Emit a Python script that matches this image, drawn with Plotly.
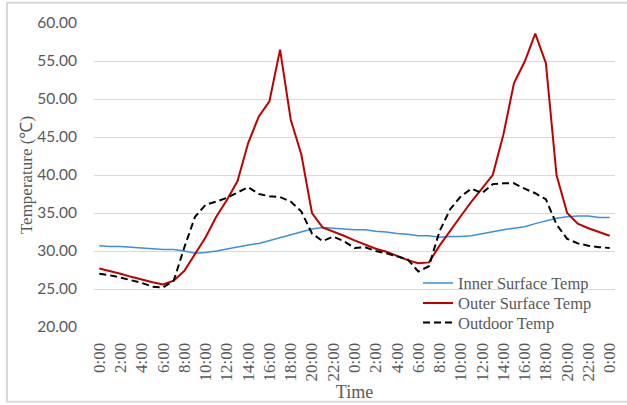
import plotly.graph_objects as go

time_labels = [f"{h}:00" for h in range(24)] + [f"{h}:00" for h in range(24)] + ["0:00"]

inner_surface = [30.7, 30.6, 30.6, 30.5, 30.4, 30.3, 30.2, 30.2, 30.0, 29.7,
                 29.8, 30.0, 30.3, 30.6, 30.8, 31.0, 31.4, 31.8, 32.1, 32.5,
                 32.9, 33.1, 33.0, 32.9, 32.8, 32.8, 32.6, 32.5, 32.3, 32.2,
                 32.0, 32.0, 31.8, 31.9, 31.9, 32.0, 32.3, 32.5, 32.8, 33.0,
                 33.2, 33.6, 34.0, 34.3, 34.5, 34.6, 34.6, 34.4, 34.4]

outer_surface = [27.7, 27.4, 27.0, 26.6, 26.2, 25.9, 25.6, 26.1, 27.4, 29.6,
                 31.8, 34.5, 36.7, 39.2, 44.2, 47.7, 49.7, 56.5, 47.3, 42.7,
                 35.0, 33.1, 32.6, 32.0, 31.4, 30.8, 30.3, 29.9, 29.3, 28.8,
                 28.4, 28.5, 30.7, 32.7, 34.6, 36.5, 38.2, 40.0, 45.3, 52.1,
                 54.9, 58.6, 54.7, 40.0, 35.0, 33.6, 33.0, 32.5, 32.0]

outdoor = [27.0, 26.8, 26.5, 26.2, 25.8, 25.3, 25.2, 26.1, 30.5, 34.5,
           36.1, 36.5, 37.0, 37.7, 38.4, 37.5, 37.2, 37.1, 36.5, 35.2,
           32.3, 31.3, 31.9, 31.3, 30.4, 30.5, 30.0, 29.7, 29.3, 28.9,
           27.3, 28.0, 32.6, 35.5, 37.2, 38.2, 37.6, 38.8, 38.9, 38.9,
           38.2, 37.6, 36.8, 33.5, 31.6, 31.0, 30.7, 30.5, 30.4]

series_names = ["Inner Surface Temp", "Outer Surface Temp", "Outdoor Temp"]
y_ticks = [20, 25, 30, 35, 40, 45, 50, 55, 60]

x = list(range(len(time_labels)))
tick_idx = x[::2]

SERIF = "Liberation Serif, Times New Roman, serif"
GRAY = "#595959"

# plot area geometry (pixels)
L, R, T, B = 94, 615, 23.3, 327.3
PW, PH = R - L, B - T


def px(xp):
    return (xp - L) / PW


def py(yp):
    return (B - yp) / PH


fig = go.Figure()
fig.add_trace(go.Scatter(x=x, y=inner_surface, mode="lines", name=series_names[0],
                         line=dict(color="#3c8fd8", width=1.5), legend="legend"))
fig.add_trace(go.Scatter(x=x, y=outer_surface, mode="lines", name=series_names[1],
                         line=dict(color="#c00000", width=2), legend="legend2"))
fig.add_trace(go.Scatter(x=x, y=outdoor, mode="lines", name=series_names[2],
                         line=dict(color="#000000", width=2, dash="7px,4px"), legend="legend3"))

leg_font = dict(family=SERIF, size=16.5, color=GRAY)
leg_common = dict(xanchor="left", yanchor="middle", bgcolor="rgba(0,0,0,0)",
                  font=leg_font, borderwidth=0)

fig.update_layout(
    width=627, height=405,
    margin=dict(l=L, r=627 - R, t=T, b=405 - B, autoexpand=False),
    paper_bgcolor="white", plot_bgcolor="white",
    showlegend=True,
    legend=dict(x=px(418), y=py(283.5), **leg_common),
    legend2=dict(x=px(418), y=py(303.5), **leg_common),
    legend3=dict(x=px(418), y=py(323), **leg_common),
    xaxis=dict(range=[-0.5, len(time_labels) - 0.5], tickmode="array",
               tickvals=tick_idx, ticktext=[time_labels[i] for i in tick_idx],
               tickangle=-90, showgrid=False, zeroline=False, showline=False,
               ticks="outside", ticklen=8, tickcolor="rgba(0,0,0,0)", automargin=False,
               tickfont=dict(family=SERIF, size=17, color=GRAY),
               title=dict(text="Time", font=dict(family=SERIF, size=18, color=GRAY), standoff=0)),
    yaxis=dict(range=[20, 60], tickmode="array", tickvals=y_ticks,
               ticktext=[f"{v:.2f}" for v in y_ticks], automargin=False,
               showgrid=True, gridcolor="#d9d9d9", gridwidth=1, zeroline=False, showline=False,
               ticks="outside", ticklen=13, tickcolor="rgba(0,0,0,0)",
               tickfont=dict(family="Lato, Liberation Sans, sans-serif", size=15.5, color=GRAY),
               title=dict(text="Temperature (℃)", font=dict(family=SERIF, size=17, color=GRAY), standoff=0)),
    shapes=[dict(type="rect", xref="paper", yref="paper",
                 x0=px(7), x1=px(640), y0=py(402), y1=py(3),
                 line=dict(color="#d9d9d9", width=2), fillcolor="rgba(0,0,0,0)", layer="above")],
)

fig.write_html("out.html", config={"displayModeBar": False},
               post_script="document.body.style.margin='0';document.body.style.overflow='hidden';")
